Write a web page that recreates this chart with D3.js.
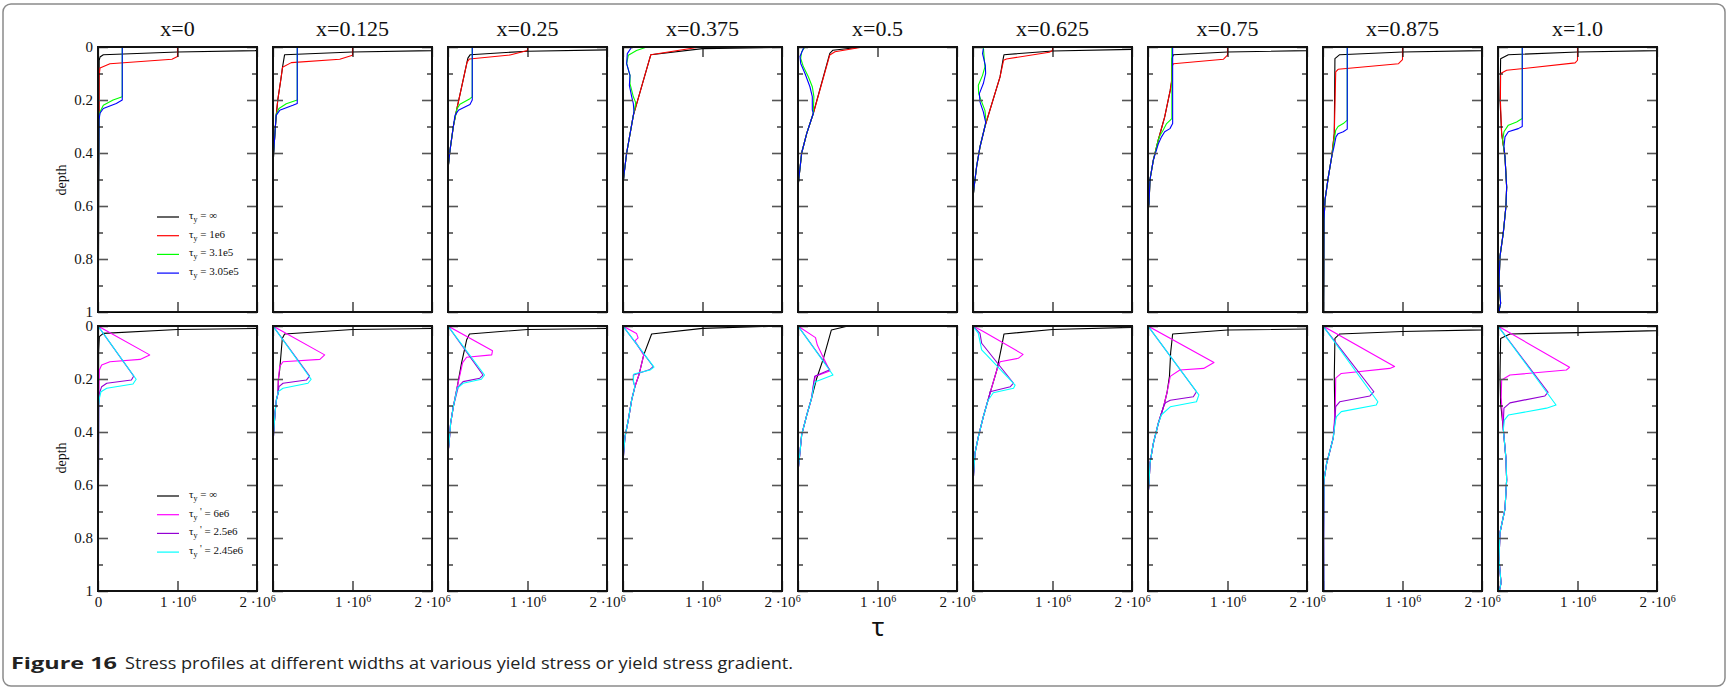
<!DOCTYPE html>
<html><head><meta charset="utf-8">
<script src="https://cdn.jsdelivr.net/npm/d3@7"></script>
<style>body{margin:0;background:#fff;} svg{display:block}</style>
</head><body>
<svg id="c" width="1727" height="688"></svg>
<script>
// ---------- data (tau in units of 1e6, depth 0..1) ----------
const panelTitles = ["x=0","x=0.125","x=0.25","x=0.375","x=0.5","x=0.625","x=0.75","x=0.875","x=1.0"];
const depthTicks = [0,0.2,0.4,0.6,0.8,1];
const depthMinorTicks = [0.1,0.3,0.5,0.7,0.9];
const tauTicks = [0,1,2];
const tauTickMantissa = ["0","1","2"];
const tauTickExponent = "6";

const topLegend = ["∞","1e6","3.1e5","3.05e5"];
const botLegend = ["∞","6e6","2.5e6","2.45e6"];
const topColors = ["#000000","#ff0000","#00ff00","#0000ff"];
const botColors = ["#000000","#ff00ff","#9400d3","#00ffff"];

// top row: shared deep part of each panel
const topTail = [
  [[0.013,0.3],[0.008,0.5],[0.006,0.8],[0.005,1]],
  [[0.03,0.3],[0.008,0.4],[0,0.46],[0,1]],
  [[0.11,0.235],[0.067,0.3],[0.025,0.39],[0.004,0.45],[0,0.5],[0,1]],
  [[0.13,0.258],[0.046,0.4],[0.013,0.48],[0,0.52],[0,1]],
  [[0.193,0.25],[0.11,0.326],[0.046,0.4],[0.013,0.49],[0,0.53],[0,1]],
  [[0.34,0.113],[0.15,0.3],[0.088,0.377],[0.046,0.45],[0.013,0.53],[0,0.57],[0,1]],
  [[0.21,0.264],[0.13,0.35],[0.067,0.427],[0.025,0.5],[0.013,0.59],[0,0.62],[0,1]],
  [[0.142,0.327],[0.109,0.415],[0.067,0.49],[0.025,0.578],[0.013,0.653],[0.008,0.99],[0.008,1]],
  [[0.046,0.327],[0.088,0.415],[0.109,0.528],[0.1,0.6],[0.067,0.7],[0.025,0.79],[0.013,0.89],[0.033,0.967],[0.017,0.99],[0.017,1]]
];
const topInf = [
  [[3,0.008],[1.0,0.019],[0.067,0.029],[0.025,0.038],[0.015,0.05]],
  [[3,0.008],[1.0,0.019],[0.146,0.029],[0.12,0.076],[0.1,0.12],[0.06,0.2],[0.04,0.26]],
  [[3,0.006],[1.0,0.016],[0.28,0.029],[0.25,0.042]],
  [[3,-0.003],[1.0,0.006],[0.35,0.029]],
  [[0.8,0],[0.44,0.012],[0.4,0.024]],
  [[3,0.006],[2.0,0.009],[1.0,0.015],[0.39,0.029],[0.38,0.044]],
  [[3,0.008],[1.0,0.019],[0.32,0.029],[0.3,0.044],[0.3,0.126],[0.28,0.163]],
  [[3,0.008],[1.0,0.019],[0.21,0.029],[0.15,0.044]],
  [[3,0.008],[1.0,0.019],[0.13,0.029],[0.033,0.044],[0.025,0.2]]
];
const top1e6 = [
  [[1.0,0],[1.0,0.036],[0.93,0.046],[0.15,0.063],[0.025,0.079],[0.013,0.113]],
  [[1.0,0],[1.0,0.031],[0.84,0.046],[0.23,0.059],[0.12,0.076],[0.1,0.12],[0.06,0.2],[0.04,0.26]],
  [[1.0,0],[1.0,0.013],[0.78,0.03],[0.27,0.045],[0.24,0.057]],
  [[0.97,0],[0.35,0.029]],
  [[0.82,0],[0.465,0.018],[0.4,0.03]],
  [[1.0,0],[1.0,0.013],[0.96,0.02],[0.42,0.045],[0.385,0.05]],
  [[1.0,0],[1.0,0.031],[0.95,0.046],[0.32,0.063],[0.3,0.075],[0.297,0.126],[0.28,0.163]],
  [[1.0,0],[1.0,0.048],[0.95,0.063],[0.19,0.084],[0.16,0.094]],
  [[1.0,0],[1.0,0.05],[0.97,0.06],[0.109,0.088],[0.033,0.1],[0.03,0.2]]
];
const top31e5 = [
  [[0.305,0],[0.305,0.188],[0.19,0.2],[0.067,0.22],[0.025,0.245],[0.013,0.27]],
  [[0.305,0],[0.305,0.2],[0.167,0.214],[0.075,0.232],[0.04,0.255]],
  [[0.305,0],[0.305,0.188],[0.276,0.195],[0.15,0.216],[0.11,0.235]],
  [[0.3,0],[0.17,0.013],[0.067,0.031],[0.046,0.063],[0.088,0.107],[0.088,0.138],[0.13,0.188],[0.16,0.21]],
  [[0.088,0],[0.046,0.018],[0.034,0.043],[0.067,0.074],[0.13,0.112],[0.18,0.15],[0.2,0.187],[0.193,0.238]],
  [[0.13,0],[0.15,0.075],[0.12,0.107],[0.067,0.144],[0.071,0.176],[0.109,0.207],[0.15,0.239],[0.163,0.276]],
  [[0.3,0],[0.3,0.27],[0.234,0.289],[0.19,0.314],[0.15,0.335]],
  [[0.305,0],[0.305,0.276],[0.255,0.289],[0.19,0.3],[0.16,0.314],[0.14,0.352]],
  [[0.305,0],[0.305,0.27],[0.234,0.283],[0.13,0.295],[0.075,0.32],[0.059,0.352]]
];
const top305e5 = [
  [[0.305,0],[0.305,0.2],[0.23,0.213],[0.067,0.232],[0.025,0.25],[0.013,0.276]],
  [[0.305,0],[0.305,0.213],[0.25,0.22],[0.084,0.239],[0.04,0.258]],
  [[0.305,0],[0.305,0.2],[0.276,0.217],[0.13,0.239],[0.088,0.258]],
  [[0.11,0],[0.054,0.025],[0.046,0.063],[0.088,0.107],[0.08,0.145],[0.11,0.188],[0.13,0.214],[0.138,0.245]],
  [[0.075,0],[0.025,0.036],[0.034,0.062],[0.088,0.1],[0.15,0.15],[0.18,0.187],[0.18,0.238]],
  [[0.13,0.006],[0.12,0.025],[0.155,0.069],[0.159,0.1],[0.13,0.138],[0.08,0.176],[0.088,0.207],[0.13,0.245],[0.16,0.285]],
  [[0.31,0],[0.31,0.289],[0.276,0.308],[0.21,0.32],[0.17,0.339],[0.13,0.365]],
  [[0.305,0],[0.305,0.31],[0.255,0.32],[0.19,0.327],[0.163,0.339],[0.138,0.377]],
  [[0.305,0],[0.305,0.3],[0.255,0.308],[0.13,0.32],[0.088,0.339],[0.075,0.377]]
];

// bottom row
const botTail = [
  [[0.008,0.3],[0.006,0.6],[0.005,1]],
  [[0.067,0.204],[0.063,0.254],[0.042,0.28],[0.025,0.33],[0.008,0.405],[0,0.45],[0,1]],
  [[0.117,0.229],[0.067,0.304],[0.033,0.367],[0.013,0.443],[0,0.48],[0,1]],
  [[0.15,0.229],[0.109,0.279],[0.067,0.354],[0.025,0.418],[0.008,0.48],[0,0.52],[0,1]],
  [[0.17,0.273],[0.11,0.336],[0.046,0.411],[0.017,0.5],[0,0.55],[0,1]],
  [[0.213,0.254],[0.13,0.342],[0.067,0.418],[0.025,0.48],[0.008,0.556],[0,0.6],[0,1]],
  [[0.2,0.3],[0.13,0.367],[0.067,0.443],[0.025,0.518],[0.013,0.594],[0,0.64],[0,1]],
  [[0.13,0.42],[0.088,0.47],[0.046,0.518],[0.013,0.58],[0.008,0.8],[0.01,1]],
  [[0.067,0.39],[0.1,0.5],[0.109,0.58],[0.088,0.69],[0.025,0.78],[0.013,0.88],[0.038,0.97],[0.017,1]]
];
const botInf = [
  [[3,0.006],[1.0,0.013],[0.067,0.028],[0.017,0.04],[0.008,0.1]],
  [[3,0.006],[1.0,0.013],[0.146,0.03],[0.117,0.047],[0.084,0.166]],
  [[3,0.006],[1.0,0.013],[0.27,0.03],[0.234,0.053],[0.17,0.14]],
  [[3,-0.005],[2.0,0],[1.0,0.009],[0.36,0.03],[0.26,0.11],[0.2,0.185]],
  [[0.63,0],[0.42,0.015],[0.32,0.122],[0.235,0.198]],
  [[3,0.003],[2.0,0.005],[1.0,0.013],[0.39,0.03],[0.36,0.078],[0.3,0.166]],
  [[3,0.008],[1.0,0.015],[0.31,0.03],[0.285,0.1],[0.27,0.19],[0.24,0.25]],
  [[3,0.008],[1.0,0.021],[0.21,0.03],[0.15,0.047],[0.142,0.19],[0.15,0.36]],
  [[3,0.01],[1.0,0.025],[0.15,0.03],[0.033,0.047],[0.025,0.19],[0.033,0.29]]
];
const bot6e6 = [
  [[0,0],[0.65,0.109],[0.53,0.126],[0.15,0.135],[0.046,0.147],[0.017,0.166]],
  [[0,0],[0.65,0.109],[0.59,0.126],[0.126,0.135],[0.084,0.153]],
  [[0,0],[0.56,0.093],[0.55,0.109],[0.234,0.118],[0.184,0.138]],
  [[0,0],[0.17,0.028],[0.19,0.045],[0.15,0.056],[0.26,0.11],[0.2,0.185]],
  [[0,0],[0.22,0.044],[0.243,0.072],[0.4,0.17],[0.22,0.19],[0.2,0.21]],
  [[0,0],[0.13,0.021],[0.63,0.107],[0.57,0.122],[0.34,0.135],[0.3,0.166]],
  [[0,0],[0.83,0.138],[0.7,0.16],[0.4,0.166],[0.28,0.19],[0.24,0.25]],
  [[0,0],[0.9,0.153],[0.84,0.16],[0.23,0.179],[0.16,0.197],[0.155,0.3]],
  [[0,0],[0.9,0.156],[0.86,0.166],[0.15,0.185],[0.046,0.204],[0.04,0.27]]
];
const bot25e6 = [
  [[0,0],[0.45,0.189],[0.42,0.204],[0.11,0.216],[0.046,0.229],[0.017,0.254]],
  [[0,0],[0.46,0.189],[0.42,0.204],[0.126,0.216],[0.075,0.229]],
  [[0,0],[0.44,0.185],[0.4,0.197],[0.19,0.21],[0.13,0.229]],
  [[0,0],[0.38,0.153],[0.34,0.164],[0.13,0.185],[0.13,0.21]],
  [[0,0],[0.4,0.165],[0.21,0.19],[0.2,0.21]],
  [[0,0],[0.088,0.028],[0.109,0.065],[0.51,0.216],[0.47,0.229],[0.213,0.248]],
  [[0,0],[0.61,0.248],[0.57,0.267],[0.28,0.28],[0.22,0.29]],
  [[0,0],[0.64,0.248],[0.59,0.264],[0.21,0.286],[0.16,0.304],[0.155,0.33]],
  [[0,0],[0.63,0.25],[0.59,0.264],[0.15,0.29],[0.075,0.31],[0.07,0.34]]
];
const bot245e6 = [
  [[0,0],[0.48,0.201],[0.44,0.219],[0.11,0.235],[0.038,0.248],[0.017,0.273]],
  [[0,0],[0.48,0.201],[0.44,0.216],[0.126,0.235],[0.063,0.248]],
  [[0,0],[0.46,0.185],[0.42,0.201],[0.19,0.216],[0.117,0.235]],
  [[0,0],[0.39,0.155],[0.34,0.166],[0.138,0.181],[0.13,0.2],[0.135,0.215]],
  [[0,0],[0.44,0.185],[0.22,0.21],[0.2,0.225]],
  [[0,0],[0.067,0.028],[0.109,0.09],[0.17,0.109],[0.53,0.223],[0.51,0.235],[0.255,0.252],[0.19,0.28]],
  [[0,0],[0.64,0.26],[0.61,0.286],[0.28,0.305],[0.17,0.335]],
  [[0,0],[0.69,0.286],[0.67,0.298],[0.23,0.323],[0.17,0.342],[0.155,0.36]],
  [[0,0],[0.73,0.298],[0.61,0.31],[0.13,0.336],[0.08,0.355]]
];

// ---------- layout ----------
const svg = d3.select("#c");
const PL = 98, STEP = 175, PW = 159, PH = 265;
const rowTops = [47, 326];
const serif = "'Liberation Serif','Times New Roman',serif";

svg.append("rect").attr("x",3).attr("y",4).attr("width",1722).attr("height",682)
  .attr("rx",8).attr("fill","none").attr("stroke","#8a8a8a").attr("stroke-width",1.5);

const defs = svg.append("defs");

function full(head, tail){
  const last = head[head.length-1][1];
  return head.concat(tail.filter(p => p[1] > last));
}

const rows = [
  {series:[topInf,top1e6,top31e5,top305e5], tail: topTail, colors: topColors},
  {series:[botInf,bot6e6,bot25e6,bot245e6], tail: botTail, colors: botColors}
];

rows.forEach((row, r) => {
  const top = rowTops[r];
  for (let i = 0; i < 9; i++) {
    const left = PL + i*STEP;
    const x = d3.scaleLinear().domain([0,2]).range([left, left+PW]);
    const y = d3.scaleLinear().domain([0,1]).range([top, top+PH]);
    const id = "clip"+r+"_"+i;
    defs.append("clipPath").attr("id",id).append("rect")
      .attr("x",left).attr("y",top).attr("width",PW).attr("height",PH);
    const g = svg.append("g");
    const line = d3.line().x(d => x(d[0])).y(d => y(d[1]));
    const lg = g.append("g").attr("clip-path","url(#"+id+")");
    row.series.forEach((s, k) => {
      lg.append("path").attr("d", line(full(s[i], row.tail[i])))
        .attr("fill","none").attr("stroke", row.colors[k])
        .attr("stroke-width",1.1).attr("stroke-linejoin","round");
    });

    // axes (ticks inward)
    const styleAxis = (sel, col, w) => {
      sel.select(".domain").remove();
      sel.selectAll(".tick line").attr("stroke",col).attr("stroke-width",w);
      sel.selectAll(".tick text").attr("font-family",serif).attr("font-size",15).attr("fill","#111");
    };
    const yl = g.append("g").attr("transform",`translate(${left},0)`)
      .call(d3.axisLeft(y).tickValues(depthTicks).tickSizeInner(-10).tickSizeOuter(0).tickPadding(5)
        .tickFormat(i===0 ? d3.format("") : () => ""));
    styleAxis(yl, "#555", 1.6);
    const ylm = g.append("g").attr("transform",`translate(${left},0)`)
      .call(d3.axisLeft(y).tickValues(depthMinorTicks).tickSizeInner(-5).tickSizeOuter(0).tickFormat(() => ""));
    styleAxis(ylm, "#111", 1.2);
    const yr = g.append("g").attr("transform",`translate(${left+PW},0)`)
      .call(d3.axisRight(y).tickValues(depthTicks).tickSizeInner(-10).tickSizeOuter(0).tickFormat(() => ""));
    styleAxis(yr, "#555", 1.6);
    const yrm = g.append("g").attr("transform",`translate(${left+PW},0)`)
      .call(d3.axisRight(y).tickValues(depthMinorTicks).tickSizeInner(-5).tickSizeOuter(0).tickFormat(() => ""));
    styleAxis(yrm, "#111", 1.2);
    const xt = g.append("g").attr("transform",`translate(0,${top})`)
      .call(d3.axisTop(x).tickValues(tauTicks).tickSizeInner(-10).tickSizeOuter(0).tickFormat(() => ""));
    styleAxis(xt, "#111", 1.2);
    const xb = g.append("g").attr("transform",`translate(0,${top+PH})`)
      .call(d3.axisBottom(x).tickValues(tauTicks).tickSizeInner(-10).tickSizeOuter(0).tickPadding(5).tickFormat(() => ""));
    styleAxis(xb, "#111", 1.2);
    if (r === 1) {
      xb.selectAll(".tick text").each(function(d, j) {
        const t = d3.select(this);
        if (d === 0) { if (i === 0) t.text(tauTickMantissa[j]); return; }
        t.text(tauTickMantissa[j] + " ·10");
        t.append("tspan").attr("dy","-0.45em").attr("font-size",10).text(tauTickExponent);
      });
    }

    // frame
    g.append("rect").attr("x",left).attr("y",top).attr("width",PW).attr("height",PH)
      .attr("fill","none").attr("stroke","#111").attr("stroke-width",2);

    if (r === 0) {
      svg.append("text").attr("x",left+PW/2).attr("y",36).attr("text-anchor","middle")
        .attr("font-family",serif).attr("font-size",22).attr("fill","#111").text(panelTitles[i]);
    }
  }
  // depth label
  svg.append("text").attr("transform",`translate(66,${r===0?180:458}) rotate(-90)`)
    .attr("text-anchor","middle").attr("font-family",serif).attr("font-size",14).attr("fill","#111").text("depth");
});

// legends
function legend(labels, colors, y0, prime) {
  labels.forEach((lab, k) => {
    const yy = y0 + k*18.7;
    svg.append("line").attr("x1",157).attr("x2",179).attr("y1",yy).attr("y2",yy)
      .attr("stroke",colors[k]).attr("stroke-width",1.2);
    const t = svg.append("text").attr("x",189).attr("y",yy+2).attr("font-family",serif)
      .attr("font-size",11).attr("fill","#111").text("τ");
    t.append("tspan").attr("dy",3).attr("font-size",8).text("y");
    if (prime && k > 0) {
      t.append("tspan").attr("dy",-5).attr("font-size",10).text(" '");
      t.append("tspan").attr("dy",2).text(" = " + lab);
    } else {
      t.append("tspan").attr("dy",-3).text(" = " + lab);
    }
  });
}
legend(topLegend, topColors, 217, false);
legend(botLegend, botColors, 496, true);

// tau axis label
svg.append("text").attr("x",878).attr("y",636).attr("text-anchor","middle")
  .attr("font-family","'Noto Sans',sans-serif").attr("font-size",26).attr("fill","#111").text("τ");

// caption
svg.append("text").attr("x",11).attr("y",669).attr("font-family","'Open Sans','Noto Sans',sans-serif")
  .attr("font-weight","bold").attr("font-size",16).attr("fill","#222")
  .attr("textLength",106).attr("lengthAdjust","spacingAndGlyphs").text("Figure 16");
svg.append("text").attr("x",125).attr("y",669).attr("font-family","'Open Sans','Noto Sans',sans-serif")
  .attr("font-size",16).attr("fill","#222")
  .attr("textLength",668).attr("lengthAdjust","spacingAndGlyphs")
  .text("Stress profiles at different widths at various yield stress or yield stress gradient.");
</script>
</body></html>
